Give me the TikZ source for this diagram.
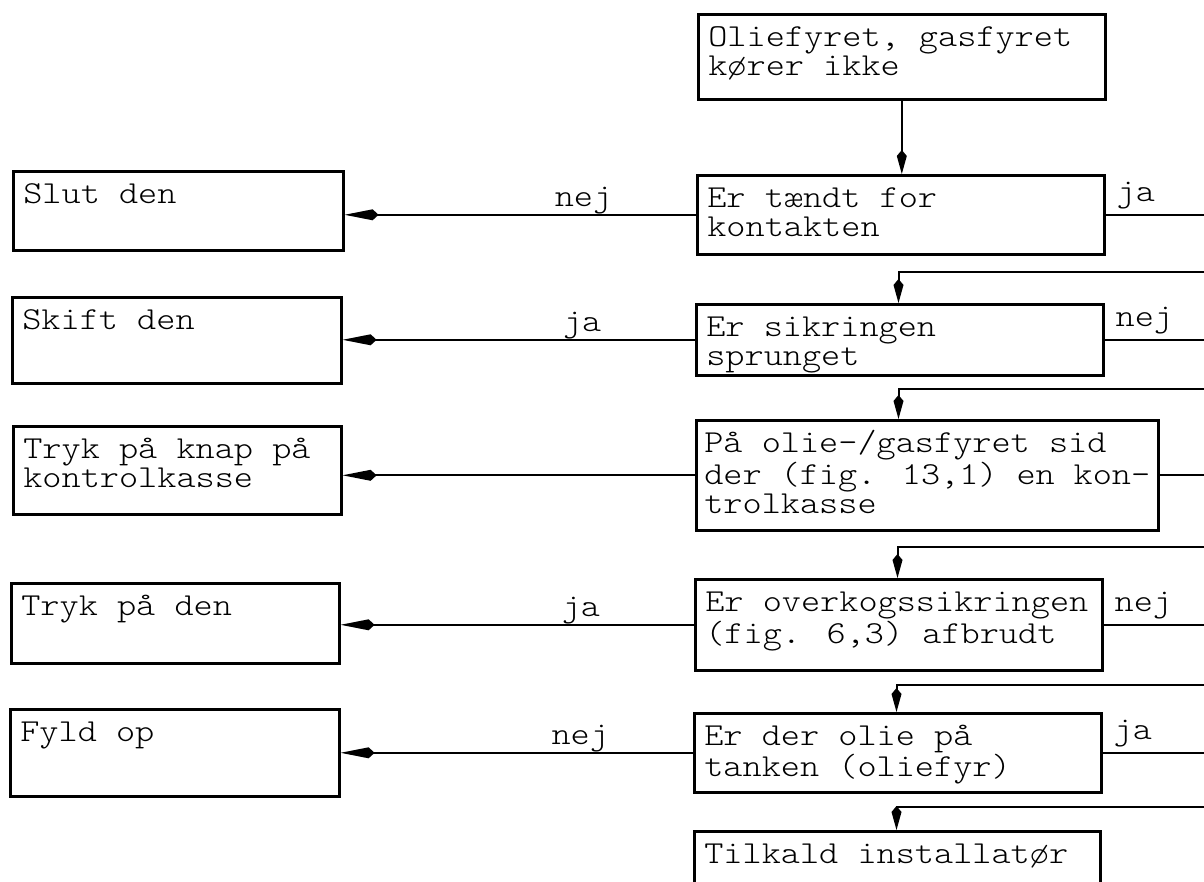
\documentclass[tikz,border=0pt]{standalone}
\usepackage{fontspec}
\usetikzlibrary{arrows.meta,positioning}
\newfontfamily\tw[FakeStretch=1.14]{lmmonolt10-regular.otf}
\newcommand{\cell}[3]{\parbox[c][#2][t]{#1}{\raggedright\hyphenpenalty=10000\rule{0pt}{16pt}#3}}
\tikzset{
  box/.style={draw, line width=1.3pt, anchor=north west, inner xsep=5pt, inner ysep=0pt},
  line/.style={line width=1pt},
  harr/.style={-{Kite[length=17pt,width=5.5pt,inset=3pt]}},
  varr/.style={-{Kite[length=12pt,width=5pt,inset=3pt]}},
  lbl/.style={above, inner sep=0.5pt, text depth=3pt},
  rlbl/.style={anchor=south west, inner xsep=5pt, inner ysep=3pt, text depth=3pt},
}

\begin{document}
\begin{tikzpicture}[x=0.5pt, y=-0.5pt, font=\tw\fontsize{16}{14.8}\selectfont]
        \useasboundingbox (0,0) rectangle (1204,882);
        \clip (0,0) rectangle (1204,882);

        % main column
        \node (start) [box] at (697,13) {\cell{193.5pt}{42.5pt}{Oliefyret, gasfyret\\kører ikke}};
        \node (q1) [box] at (696,174) {\cell{193.5pt}{39.5pt}{Er tændt for\\kontakten}};
        \node (q2) [box] at (695,303) {\cell{193.5pt}{35.5pt}{Er sikringen\\sprunget}};
        \node (q3) [box, inner xsep=4pt] at (695,419) {\cell{223pt}{55pt}{På olie-/gasfyret sid\\der (fig. 13,1) en kon-\\trolkasse}};
        \node (q4) [box] at (694,578) {\cell{193.5pt}{45.5pt}{Er overkogssikringen\\(fig. 6,3) afbrudt}};
        \node (q5) [box] at (693,712) {\cell{193.5pt}{39.5pt}{Er der olie på\\tanken (oliefyr)}};
        \node (fin) [box] at (693,830) {\cell{193pt}{45pt}{Tilkald installatør}};

        % actions
        \node (a1) [box] at (12,170) {\cell{155pt}{39.5pt}{Slut den}};
        \node (a2) [box] at (11,296) {\cell{154.5pt}{43pt}{Skift den}};
        \node (a3) [box] at (12,425) {\cell{154pt}{44pt}{Tryk på knap på\\kontrolkasse}};
        \node (a4) [box] at (10,582) {\cell{154pt}{40pt}{Tryk på den}};
        \node (a5) [box] at (9,708) {\cell{154.5pt}{43.5pt}{Fyld op}};

        \coordinate (rim) at (1204,0);

        \draw[line, varr] (start.south) -- (start.south |- q1.north);

        \foreach \q/\a/\t in {q1/a1/nej, q2/a2/ja, q4/a4/ja, q5/a5/nej} {
            \draw[line, harr] (\q.west) -- node[lbl, pos=0.32] {\t} (\q.west -| \a.east);
        }
        \draw[line, harr] (q3.west) -- (q3.west -| a3.east);

        \foreach \q/\t in {q1/ja, q2/nej, q4/nej, q5/ja} {
            \draw[line] (\q.east) -- node[rlbl, pos=0] {\t} (\q.east -| rim);
        }
        \draw[line] (q3.east) -- (q3.east -| rim);

        \foreach \y/\n in {272/q2, 389/q3, 547/q4, 685/q5, 807/fin} {
            \coordinate (b\n) at (1204,\y);
            \draw[line, varr] (b\n) -| ([xshift=101.75pt]\n.north west);
        }
\end{tikzpicture}
\end{document}
